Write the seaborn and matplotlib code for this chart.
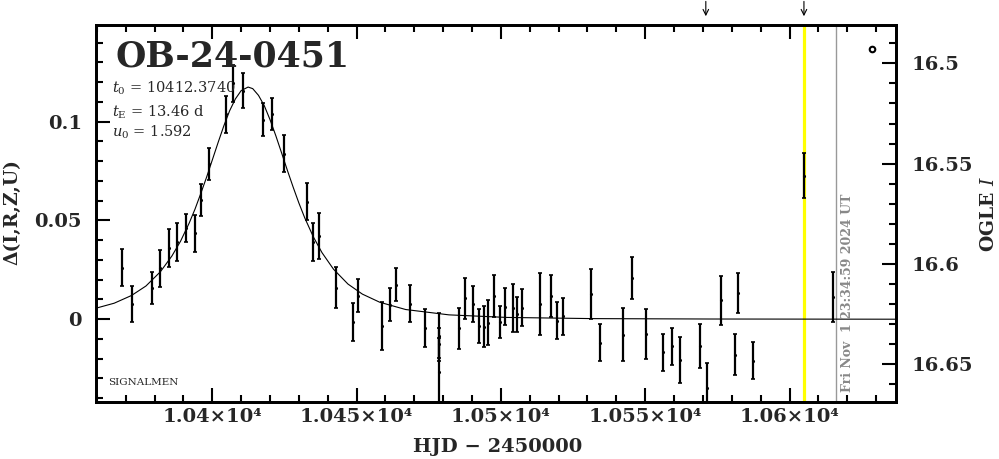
import matplotlib
matplotlib.use('agg')
import matplotlib.pyplot as plt
from matplotlib.ticker import MultipleLocator, FixedLocator, FixedFormatter
import numpy as np
import pandas as pd
import seaborn as sns

# observations: HJD-2450000, delta mag, error
hjd = [10368.8, 10372.0, 10379.0, 10382.0, 10385.0, 10387.8, 10391.0, 10393.9,
       10396.0, 10398.8, 10404.8, 10407.0, 10410.8, 10417.6, 10420.7, 10424.9,
       10432.9, 10434.9, 10436.8, 10442.7, 10448.8, 10450.6, 10458.9, 10461.6,
       10463.7, 10468.6, 10473.8, 10478.5, 10478.5, 10478.5, 10485.6, 10487.6,
       10490.5, 10492.5, 10494.2, 10495.5, 10497.7, 10499.7, 10501.5, 10504.3,
       10505.6, 10507.4, 10513.6, 10517.2, 10519.3, 10521.6, 10531.3, 10534.4,
       10542.4, 10545.3, 10550.4, 10556.2, 10559.3, 10562.1, 10569.0, 10571.3,
       10576.2, 10581.2, 10582.2, 10587.2, 10605.1, 10615.0]
delta = [0.0261, 0.0077, 0.0157, 0.0258, 0.0359, 0.0390, 0.0460, 0.0434,
         0.0604, 0.0787, 0.1037, 0.1194, 0.1156, 0.1010, 0.1038, 0.0837,
         0.0595, 0.0390, 0.0422, 0.0160, -0.0015, 0.0118, -0.0034, 0.0073,
         0.0175, 0.0078, -0.0044, -0.0083, -0.0127, -0.0265, -0.0046, 0.0105,
         0.0077, -0.0035, -0.0037, -0.0017, 0.0118, -0.0014, 0.0063, 0.0056,
         0.0025, 0.0059, 0.0076, 0.0118, -0.0008, 0.0014, 0.0128, -0.0118,
         -0.0078, 0.0208, -0.0076, -0.0168, -0.0137, -0.0207, -0.0136, -0.0350,
         0.0096, -0.0179, 0.0133, -0.0210, 0.0726, 0.0113]
err = [0.0093, 0.0093, 0.0081, 0.0093, 0.0096, 0.0096, 0.0071, 0.0094,
       0.0081, 0.0082, 0.0093, 0.0093, 0.0089, 0.0083, 0.0080, 0.0094,
       0.0095, 0.0096, 0.0115, 0.0103, 0.0096, 0.0084, 0.0122, 0.0083,
       0.0083, 0.0094, 0.0095, 0.0115, 0.0085, 0.0170, 0.0104, 0.0104,
       0.0093, 0.0087, 0.0105, 0.0115, 0.0105, 0.0080, 0.0094, 0.0121,
       0.0089, 0.0093, 0.0157, 0.0105, 0.0094, 0.0095, 0.0125, 0.0095,
       0.0134, 0.0105, 0.0126, 0.0094, 0.0094, 0.0116, 0.0110, 0.0130,
       0.0125, 0.0103, 0.0103, 0.0093, 0.0114, 0.0125]

# model curve
model_t = [10360, 10366, 10372, 10377, 10382, 10386, 10389, 10392, 10394, 10396,
           10398, 10400, 10402, 10404, 10406, 10408, 10410, 10412.4, 10414, 10416,
           10418, 10420, 10422, 10424, 10426, 10428, 10430, 10432, 10435, 10438,
           10442, 10447, 10452, 10458, 10467, 10482, 10502, 10532, 10572, 10637]
model_d = [0.0057, 0.0081, 0.0120, 0.0168, 0.0240, 0.0320, 0.0395, 0.0487, 0.0557, 0.0636,
           0.0718, 0.0806, 0.0894, 0.0979, 0.1055, 0.1115, 0.1157, 0.1175, 0.1167, 0.1133,
           0.1081, 0.1010, 0.0929, 0.0842, 0.0754, 0.0669, 0.0588, 0.0514, 0.0417, 0.0337,
           0.0253, 0.0178, 0.0127, 0.0086, 0.0049, 0.0022, 0.0009, 0.0003, 0.0001, 0.0000]

event = 'OB-24-0451'
params = [r'$t_0$ = 10412.3740', r'$t_{\rm E}$ = 13.46 d', r'$u_0$ = 1.592']
now_t = 10605.0
stamp_t = 10616.1
stamp = 'Fri Nov  1 23:34:59 2024 UT'
arrows_t = [10571.0, 10605.0]
circle_pt = (10628.7, 0.137)

xticks = [10400, 10450, 10500, 10550, 10600]
xlabels = ['1.04×10⁴', '1.045×10⁴', '1.05×10⁴', '1.055×10⁴', '1.06×10⁴']
yticks = [0, 0.05, 0.1]
ylabels = ['0', '0.05', '0.1']
mticks = [16.5, 16.55, 16.6, 16.65]
mlabels = ['16.5', '16.55', '16.6', '16.65']

sns.set_style('white')
plt.rcParams['font.family'] = ['DejaVu Serif']
plt.rcParams['mathtext.fontset'] = 'dejavuserif'

obs = pd.DataFrame({'t': hjd, 'd': delta, 'e': err})
mod = pd.DataFrame({'t': model_t, 'd': model_d})

fig = plt.figure(figsize=(9.99, 4.59), dpi=100)
ax = fig.add_axes([0.0961, 0.1242, 0.8008, 0.8213])

ax.axvline(now_t, color='#ffff00', lw=2.3, zorder=1)
ax.axvline(stamp_t, color='#999999', lw=1.0, zorder=1)

sns.lineplot(data=mod, x='t', y='d', ax=ax, color='black', lw=0.8, zorder=2)
ax.errorbar(obs['t'], obs['d'], yerr=obs['e'], fmt='none', ecolor='black',
            elinewidth=1.6, capsize=1.5, capthick=1.2, zorder=3)
sns.scatterplot(data=obs, x='t', y='d', ax=ax, color='black', s=5,
                edgecolor='black', linewidth=0, zorder=4)
ax.plot([circle_pt[0]], [circle_pt[1]], marker='o', ms=4, mfc='white',
        mec='black', mew=1.5, ls='none', zorder=4)

ax.set_xlim(10359.7, 10636.9)
ax.set_ylim(-0.0419, 0.1489)
ax.set_xlabel('')
ax.set_ylabel('')

ax.xaxis.set_major_locator(FixedLocator(xticks))
ax.xaxis.set_major_formatter(FixedFormatter(xlabels))
ax.xaxis.set_minor_locator(MultipleLocator(10))
ax.yaxis.set_major_locator(FixedLocator(yticks))
ax.yaxis.set_major_formatter(FixedFormatter(ylabels))
ax.yaxis.set_minor_locator(MultipleLocator(0.01))
ax.tick_params(which='both', direction='in', top=True, bottom=True,
               left=True, right=False, width=1.5, color='black')
ax.tick_params(which='major', length=10)
ax.tick_params(which='minor', length=5)
ax.tick_params(axis='x', which='major', pad=4, labelsize=14)
ax.tick_params(axis='y', which='major', pad=10, labelsize=14)
for lab in ax.get_xticklabels() + ax.get_yticklabels():
    lab.set_fontweight('bold')

ax2 = ax.twinx()
ax2.set_ylim(16.6688, 16.4809)
ax2.yaxis.set_major_locator(FixedLocator(mticks))
ax2.yaxis.set_major_formatter(FixedFormatter(mlabels))
ax2.yaxis.set_minor_locator(MultipleLocator(0.01))
ax2.tick_params(which='both', direction='in', right=True, left=False,
                width=1.5, color='black')
ax2.tick_params(which='major', length=10, pad=11, labelsize=14)
ax2.tick_params(which='minor', length=5)
for lab in ax2.get_yticklabels():
    lab.set_fontweight('bold')

for a in (ax, ax2):
    for s in a.spines.values():
        s.set_linewidth(2.0)
        s.set_color('black')

ax.text(0.024, 0.889, event, transform=ax.transAxes, fontsize=25,
        fontweight='bold', va='baseline', ha='left')
for txt, yb in zip(params, [0.8204, 0.7568, 0.7037]):
    ax.text(0.02, yb, txt, transform=ax.transAxes, fontsize=10.5,
            va='baseline', ha='left')
ax.text(0.015, 0.045, 'SIGNALMEN', transform=ax.transAxes, fontsize=7.5,
        va='baseline', ha='left')
ax.text(10620.0, -0.0368, stamp, rotation=90, color='#888888', fontsize=9,
        fontweight='bold', ha='center', va='bottom')

for t in arrows_t:
    ax.annotate('', xy=(t, 1.016), xycoords=('data', 'axes fraction'),
                xytext=(t, 1.07), textcoords=('data', 'axes fraction'),
                arrowprops=dict(arrowstyle='->', lw=0.8, color='black'),
                annotation_clip=False)

fig.text(0.498, 0.026, 'HJD − 2450000', ha='center', va='center', fontsize=14,
         fontweight='bold')
fig.text(0.012, 0.539, 'Δ(I,R,Z,U)', rotation=90, ha='center', va='center',
         fontsize=13.5, fontweight='bold')
fig.text(0.990, 0.534, r'OGLE $\mathbf{\mathit{I}}$', rotation=90, ha='center',
         va='center', fontsize=13.5, fontweight='bold')

fig.savefig('out.png', dpi=100)
